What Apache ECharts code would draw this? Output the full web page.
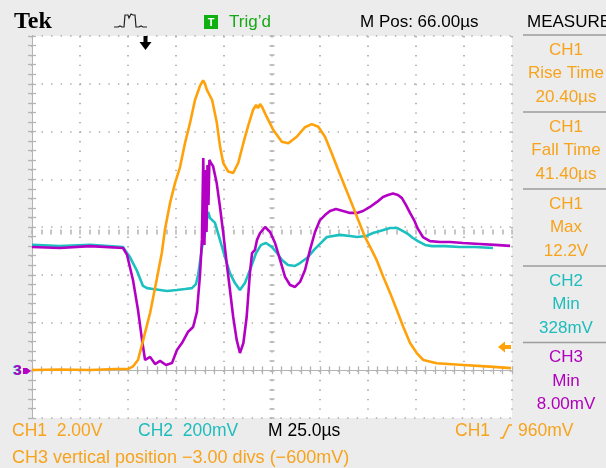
<!DOCTYPE html>
<html><head><meta charset="utf-8">
<script src="https://cdn.jsdelivr.net/npm/echarts@6/dist/echarts.min.js"></script>
<style>html,body{margin:0;padding:0;background:#ececec;}#c{width:606px;height:468px;}</style>
</head><body><div id="c"></div>
<script>
// Time axis (µs), 25 µs/div, 10 divisions
const timeTicks = [0, 25, 50, 75, 100, 125, 150, 175, 200, 225, 250];
// CH1 (V) 2.00 V/div
const ch1Time = [0,14.6,30.2,43.2,50.0,52.6,55.2,57.8,61.5,64.9,67.6,69.3,71.9,74.5,77.1,79.7,82.3,84.9,87.5,89.1,90.1,91.1,93.8,96.2,97.9,99.6,102.2,104.8,107.4,110.1,112.7,115.1,116.7,117.7,118.8,119.8,122.2,125.7,130.1,133.5,137.9,142.2,145.7,149.1,152.6,156.1,159.5,163.0,166.5,169.9,173.4,176.9,179.7,183.0,186.5,190.0,193.4,196.9,200.4,203.8,210.8,224.6,238.5,249.5];
const ch1Volts = [0.01,0.03,0.01,0.05,0.05,0.16,0.43,1.23,2.40,3.78,4.91,5.92,7.01,7.84,8.51,9.52,10.36,11.32,11.91,12.14,11.99,11.74,11.32,10.40,9.39,8.68,8.32,8.26,8.68,9.52,10.27,10.90,11.11,10.98,11.15,11.03,10.62,10.06,9.57,9.51,9.78,10.18,10.31,10.20,9.78,9.09,8.39,7.69,6.99,6.29,5.59,5.04,4.58,3.91,3.24,2.52,1.81,1.14,0.72,0.43,0.29,0.22,0.15,0.09];
// CH2 (mV) 200 mV/div
const ch2Time = [0,14.6,30.2,47.4,48.4,51.0,54.7,57.8,59.9,63.0,66.7,70.3,75.5,79.7,83.3,85.4,86.5,87.5,88.5,90.1,91.7,92.7,93.7,95.3,97.9,100.5,103.1,105.7,108.3,110.9,113.5,116.7,119.3,121.9,125.0,127.6,130.2,133.3,137.0,139.6,143.2,146.9,150.0,153.6,160.4,165.6,169.3,174.0,177.6,181.3,186.5,190.1,193.2,195.8,198.4,201.0,204.7,208.3,215.1,222.9,230.7,240.1];
const ch2mV = [525,520,525,516,504,474,416,353,344,340,336,332,336,340,344,361,399,453,512,575,663,638,646,617,546,474,407,365,336,365,420,491,525,533,516,491,462,441,437,449,470,504,529,558,567,562,558,562,575,583,596,596,583,571,554,541,525,520,520,516,516,512];
// CH3 (mV) 200 mV/div, position -3.00 divs
const ch3Time = [0,14.6,30.2,47.4,49.5,52.6,55.2,57.3,58.9,61.5,64.1,66.7,69.8,72.9,75.5,78.1,81.2,83.9,85.9,87.5,88.5,89.2,89.8,90.4,90.9,91.4,91.9,92.4,93.2,94.3,96.2,97.9,99.6,101.4,103.1,104.8,106.6,108.3,110.1,111.8,113.5,114.6,116.1,117.2,118.8,121.4,124.0,126.6,129.2,131.8,134.4,137.0,139.6,142.2,144.8,147.4,150.0,152.6,155.2,158.3,162.0,165.6,169.3,172.4,176.0,179.7,182.8,185.4,188.0,190.6,192.7,194.8,196.9,199.0,201.0,203.6,207.3,212.5,217.7,224.5,233.3,241.1,249.0];
const ch3mV = [516,512,520,512,483,378,253,127,43,56,26,39,22,30,85,114,160,181,244,399,546,889,525,839,579,860,692,881,868,855,784,684,575,449,336,223,127,72,114,223,407,491,504,546,575,600,579,533,462,391,357,349,370,420,504,579,629,650,667,675,667,659,659,667,684,705,726,734,740,734,721,692,659,629,592,558,541,537,537,533,529,525,521];
// Measurement panel
const measureBlocks = [
  ["CH1", "Rise Time", "20.40µs", "#f7a31c"],
  ["CH1", "Fall Time", "41.40µs", "#f7a31c"],
  ["CH1", "Max", "12.2V", "#f7a31c"],
  ["CH2", "Min", "328mV", "#1fbcbc"],
  ["CH3", "Min", "8.00mV", "#b100bd"]
];

const ORANGE = '#ffa10a', CYAN = '#1cc0c0', MAG = '#b400c4';
const TXT_OR = '#f7a31c', TXT_CY = '#1fbcbc';
const FONT = '"Liberation Sans", Arial, sans-serif';
const GRID = {left: 32, top: 36, width: 480, height: 382};
const tickGrey = '#b4b4b4';

function pairs(t, v) { return t.map((x, i) => [x, v[i]]); }

function edgeAxis(extra) {
  return Object.assign({
    type: 'value', axisLabel: {show: false},
    axisLine: {show: true, lineStyle: {color: tickGrey, width: 1}},
    axisTick: {show: true, inside: true, length: 4, lineStyle: {color: tickGrey, width: 1.3}},
    minorTick: {show: true, splitNumber: 5, length: 4, lineStyle: {color: tickGrey, width: 1.3}},
    splitLine: {show: false}
  }, extra);
}
const dotted = {show: true, lineStyle: {color: '#ababab', width: 1.7, type: [1.4, 8.15]}};

const xAxes = [
  edgeAxis({position: 'bottom', min: 0, max: 250, interval: 25, splitLine: dotted}),
  edgeAxis({position: 'top', min: 0, max: 250, interval: 25}),
  edgeAxis({position: 'bottom', min: 0, max: 250, interval: 25, offset: -193.5,
    axisLine: {show: false},
    axisTick: {show: true, inside: false, length: 5, lineStyle: {color: tickGrey, width: 1.5}},
    minorTick: {show: true, splitNumber: 5, length: 5, lineStyle: {color: tickGrey, width: 1.5}}})
];
const yAxes = [
  edgeAxis({position: 'left', min: -2, max: 14, interval: 2, splitLine: dotted}),
  edgeAxis({position: 'right', min: -200, max: 1400, interval: 200}),
  edgeAxis({position: 'left', min: -200, max: 1400, interval: 200, offset: -242.5,
    axisLine: {show: false},
    axisTick: {show: true, inside: false, length: 5, lineStyle: {color: tickGrey, width: 1.5}},
    minorTick: {show: true, splitNumber: 5, length: 5, lineStyle: {color: tickGrey, width: 1.5}}})
];

function txt(x, y, s, color, size, extra) {
  return Object.assign({type: 'text', x: x, y: y, z: 50, silent: true,
    style: {text: s, fill: color, font: (size || 17) + 'px ' + FONT, textVerticalAlign: 'middle'}}, extra || {});
}

const graphics = [];
// plot background
graphics.push({type: 'rect', shape: {x: GRID.left, y: GRID.top, width: GRID.width, height: GRID.height}, style: {fill: '#ffffff'}, z: -10, silent: true});
// header
graphics.push(txt(14, 22, 'Tek', '#000', 24, {style: {text: 'Tek', fill: '#000', font: 'bold 24px "Liberation Serif", "Times New Roman", serif', textVerticalAlign: 'middle'}}));
graphics.push({type: 'polyline', z: 50, silent: true, shape: {points: [[114,27],[118,27],[120,26],[122,27],[124,27],[125,15],[128,15],[129,18],[131,14],[133,15],[135,15],[136,27],[139,27],[141,26],[143,27],[147,27]]}, style: {stroke: '#222', lineWidth: 1.2, fill: null}});
graphics.push({type: 'rect', z: 50, silent: true, shape: {x: 204, y: 15, width: 14, height: 14}, style: {fill: '#10b010'}});
graphics.push(txt(211, 22.5, 'T', '#fff', 11, {style: {text: 'T', fill: '#fff', font: 'bold 11px ' + FONT, textAlign: 'center', textVerticalAlign: 'middle'}}));
graphics.push(txt(229, 22, "Trig’d", '#16a816', 17));
graphics.push(txt(360, 22, 'M Pos: 66.00µs', '#000', 17));
graphics.push(txt(527, 22, 'MEASURE', '#000', 17));
// trigger position arrow (top)
graphics.push({type: 'polygon', z: 50, silent: true, shape: {points: [[143.5,36],[147.5,36],[147.5,42],[151.5,42],[145.5,50],[139.5,42],[143.5,42]]}, style: {fill: '#000'}});
// CH1 trigger level arrow (right)
graphics.push({type: 'polygon', z: 50, silent: true, shape: {points: [[498,347],[505,341.5],[505,345],[511,345],[511,349],[505,349],[505,352.5]]}, style: {fill: ORANGE}});
// CH3 ground marker (left)
graphics.push(txt(12.5, 371, '3', CYAN, 15, {style: {text: '3', fill: CYAN, font: 'bold 15px ' + FONT, textVerticalAlign: 'middle'}}));
graphics.push(txt(13.5, 371, '3', MAG, 15, {style: {text: '3', fill: MAG, font: 'bold 15px ' + FONT, textVerticalAlign: 'middle'}}));
graphics.push({type: 'polygon', z: 50, silent: true, shape: {points: [[23,368],[27,368],[31,371],[27,374],[23,374]]}, style: {fill: MAG}});
// measurement panel
const sepY = [35, 112, 189, 266, 342.5];
sepY.forEach(y => graphics.push({type: 'line', z: 40, silent: true, shape: {x1: 523, y1: y, x2: 606, y2: y}, style: {stroke: '#9c9c9c', lineWidth: 1.6}}));
measureBlocks.forEach((b, i) => {
  const top = sepY[i];
  [b[0], b[1], b[2]].forEach((s, j) => {
    graphics.push({type: 'text', z: 50, silent: true, x: 566, y: top + 15 + j * 23.5,
      style: {text: s, fill: b[3], font: '17px ' + FONT, textAlign: 'center', textVerticalAlign: 'middle'}});
  });
});
// bottom status
graphics.push(txt(12, 431, 'CH1  2.00V', TXT_OR, 17.5));
graphics.push(txt(138, 431, 'CH2  200mV', TXT_CY, 17.5));
graphics.push(txt(268, 431, 'M 25.0µs', '#000', 17.5));
graphics.push(txt(455, 431, 'CH1', TXT_OR, 17.5));
graphics.push({type: 'polyline', z: 50, silent: true, shape: {points: [[500,438],[503,438],[509,425],[512,425]]}, style: {stroke: TXT_OR, lineWidth: 1.6, fill: null}});
graphics.push(txt(518, 431, '960mV', TXT_OR, 17.5));
graphics.push(txt(12, 458, 'CH3 vertical position −3.00 divs (−600mV)', TXT_OR, 18));

const chart = echarts.init(document.getElementById('c'), null, {renderer: 'canvas'});
chart.setOption({
  animation: false,
  backgroundColor: '#ececec',
  grid: {left: GRID.left, top: GRID.top, width: GRID.width, height: GRID.height, containLabel: false},
  xAxis: xAxes,
  yAxis: yAxes,
  graphic: graphics,
  series: [
    {name: 'CH2', type: 'line', xAxisIndex: 0, yAxisIndex: 1, data: pairs(ch2Time, ch2mV), showSymbol: false, z: 3,
      lineStyle: {color: CYAN, width: 2.6}, itemStyle: {color: CYAN}},
    {name: 'CH3', type: 'line', xAxisIndex: 0, yAxisIndex: 1, data: pairs(ch3Time, ch3mV), showSymbol: false, z: 4,
      lineStyle: {color: MAG, width: 2.6}, itemStyle: {color: MAG}},
    {name: 'CH1', type: 'line', xAxisIndex: 0, yAxisIndex: 0, data: pairs(ch1Time, ch1Volts), showSymbol: false, z: 5,
      lineStyle: {color: ORANGE, width: 2.6}, itemStyle: {color: ORANGE}}
  ]
});
</script>
</body></html>
